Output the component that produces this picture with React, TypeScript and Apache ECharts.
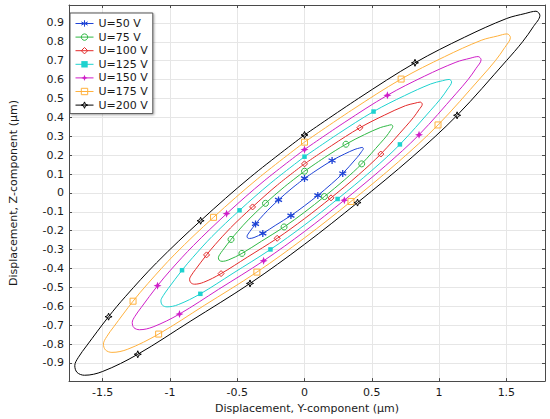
import React, { useEffect, useRef } from "react";
import * as echarts from "echarts";

type Pt = [number, number];

const seriesNames = ["U=50 V", "U=75 V", "U=100 V", "U=125 V", "U=150 V", "U=175 V", "U=200 V"];
const seriesColors = ["#1f44d6", "#2fb844", "#e32a2a", "#1ed2cf", "#cf1fc8", "#ffb13d", "#000000"];
const markerIndices = [0, 2, 11, 13, 15, 17, 24, 27];
const xTitle = "Displacement, Y-component (µm)";
const yTitle = "Displacement, Z-component (µm)";

const u50: Pt[] = [
  [0, 0.077], [0.1, 0.125], [0.205, 0.172], [0.297, 0.206], [0.375, 0.231], [0.41, 0.238],
  [0.43, 0.241], [0.437, 0.235], [0.425, 0.22], [0.405, 0.2], [0.375, 0.175], [0.284, 0.103],
  [0.2, 0.048], [0.099, -0.013], [0, -0.068], [-0.101, -0.12], [-0.213, -0.17], [-0.31, -0.214],
  [-0.375, -0.236], [-0.409, -0.241], [-0.423, -0.238], [-0.427, -0.229], [-0.42, -0.218],
  [-0.405, -0.203], [-0.364, -0.164], [-0.332, -0.137], [-0.275, -0.093], [-0.193, -0.037],
  [-0.1, 0.021], [0, 0.077],
];
const u75: Pt[] = [
  [0, 0.115], [0.15, 0.188], [0.308, 0.258], [0.446, 0.309], [0.563, 0.346], [0.615, 0.356],
  [0.645, 0.361], [0.656, 0.353], [0.638, 0.33], [0.608, 0.3], [0.563, 0.263], [0.425, 0.154],
  [0.3, 0.071], [0.148, -0.019], [0, -0.102], [-0.152, -0.18], [-0.319, -0.255], [-0.465, -0.32],
  [-0.563, -0.354], [-0.613, -0.362], [-0.634, -0.356], [-0.64, -0.343], [-0.63, -0.326],
  [-0.608, -0.304], [-0.546, -0.246], [-0.498, -0.205], [-0.413, -0.139], [-0.29, -0.055],
  [-0.15, 0.032], [0, 0.115],
];
const u100: Pt[] = [
  [0, 0.154], [0.2, 0.25], [0.411, 0.345], [0.594, 0.412], [0.75, 0.462], [0.82, 0.475],
  [0.86, 0.481], [0.875, 0.47], [0.85, 0.44], [0.81, 0.4], [0.75, 0.35], [0.567, 0.206],
  [0.4, 0.095], [0.197, -0.026], [0, -0.136], [-0.203, -0.24], [-0.425, -0.34], [-0.62, -0.427],
  [-0.75, -0.473], [-0.818, -0.483], [-0.845, -0.475], [-0.854, -0.457], [-0.84, -0.435],
  [-0.81, -0.405], [-0.728, -0.328], [-0.665, -0.274], [-0.55, -0.185], [-0.386, -0.074],
  [-0.2, 0.043], [0, 0.154],
];
const u125: Pt[] = [
  [0, 0.192], [0.25, 0.313], [0.513, 0.431], [0.743, 0.515], [0.938, 0.577], [1.025, 0.594],
  [1.075, 0.601], [1.093, 0.588], [1.063, 0.55], [1.013, 0.5], [0.938, 0.438], [0.709, 0.257],
  [0.5, 0.119], [0.246, -0.032], [0, -0.17], [-0.253, -0.299], [-0.531, -0.425], [-0.774, -0.534],
  [-0.938, -0.591], [-1.022, -0.603], [-1.056, -0.594], [-1.067, -0.571], [-1.05, -0.544],
  [-1.013, -0.506], [-0.91, -0.409], [-0.831, -0.342], [-0.688, -0.231], [-0.483, -0.092],
  [-0.25, 0.053], [0, 0.192],
];
const u150: Pt[] = [
  [0, 0.23], [0.3, 0.375], [0.616, 0.517], [0.891, 0.618], [1.125, 0.692], [1.23, 0.713],
  [1.29, 0.722], [1.312, 0.705], [1.275, 0.66], [1.215, 0.6], [1.125, 0.525], [0.851, 0.308],
  [0.6, 0.143], [0.296, -0.038], [0, -0.204], [-0.304, -0.359], [-0.638, -0.51], [-0.929, -0.641],
  [-1.125, -0.709], [-1.226, -0.724], [-1.268, -0.713], [-1.28, -0.686], [-1.26, -0.653],
  [-1.215, -0.608], [-1.092, -0.491], [-0.997, -0.41], [-0.825, -0.278], [-0.579, -0.11],
  [-0.3, 0.064], [0, 0.23],
];
const u175: Pt[] = [
  [0, 0.269], [0.35, 0.438], [0.718, 0.603], [1.04, 0.721], [1.313, 0.808], [1.435, 0.831],
  [1.505, 0.842], [1.53, 0.823], [1.488, 0.77], [1.418, 0.7], [1.313, 0.613], [0.992, 0.36],
  [0.7, 0.166], [0.345, -0.045], [0, -0.238], [-0.354, -0.419], [-0.744, -0.595], [-1.084, -0.747],
  [-1.313, -0.827], [-1.431, -0.844], [-1.479, -0.831], [-1.494, -0.8], [-1.47, -0.761],
  [-1.418, -0.709], [-1.274, -0.573], [-1.163, -0.479], [-0.963, -0.324], [-0.676, -0.129],
  [-0.35, 0.074], [0, 0.269],
];
const u200: Pt[] = [
  [0, 0.307], [0.4, 0.5], [0.821, 0.689], [1.188, 0.824], [1.5, 0.923], [1.64, 0.95],
  [1.72, 0.962], [1.749, 0.94], [1.7, 0.88], [1.62, 0.8], [1.5, 0.7], [1.134, 0.411],
  [0.8, 0.19], [0.394, -0.051], [0, -0.272], [-0.405, -0.479], [-0.85, -0.68], [-1.239, -0.854],
  [-1.5, -0.945], [-1.635, -0.965], [-1.69, -0.95], [-1.707, -0.914], [-1.68, -0.87],
  [-1.62, -0.81], [-1.456, -0.655], [-1.329, -0.547], [-1.1, -0.37], [-0.772, -0.147],
  [-0.4, 0.085], [0, 0.307],
];

const curves: Pt[][] = [u50, u75, u100, u125, u150, u175, u200];

const xMin = -1.75;
const xMax = 1.787;
const yMin = -0.996;
const yMax = 0.995;

const FONT = "DejaVu Sans";
const CLEAR = "rgba(255,255,255,0)";

const asterisk = "path://M5 0 L5 10 M0.67 2.5 L9.33 7.5 M0.67 7.5 L9.33 2.5";
const star4 = "path://M5 0 L6.4 3.6 L10 5 L6.4 6.4 L5 10 L3.6 6.4 L0 5 L3.6 3.6 Z";

const markerStyles = [
  { symbol: asterisk, size: 7, itemStyle: { color: seriesColors[0], borderColor: seriesColors[0], borderWidth: 1.3 } },
  { symbol: "circle", size: 6, itemStyle: { color: CLEAR, borderColor: seriesColors[1], borderWidth: 1 } },
  { symbol: "diamond", size: 6, itemStyle: { color: CLEAR, borderColor: seriesColors[2], borderWidth: 1 } },
  { symbol: "rect", size: 4.5, itemStyle: { color: seriesColors[3] } },
  { symbol: star4, size: 8, itemStyle: { color: seriesColors[4] } },
  { symbol: "rect", size: 6, itemStyle: { color: CLEAR, borderColor: seriesColors[5], borderWidth: 1 } },
  { symbol: star4, size: 7, itemStyle: { color: CLEAR, borderColor: "#000000", borderWidth: 1 } },
];

function buildData(pts: Pt[]) {
  return pts.map((p, i) =>
    markerIndices.indexOf(i) >= 0 && i < pts.length - 1 ? { value: p } : { value: p, symbol: "none" }
  );
}

export default function App() {
  const ref = useRef<HTMLDivElement>(null);

  useEffect(() => {
    if (!ref.current) return;
    const chart = echarts.init(ref.current, undefined, { renderer: "svg" });

    const axisLineStyle = { color: "#4a4a4a", width: 1 };
    const labelStyle = { color: "#1a1a1a", fontSize: 11, fontFamily: FONT };

    const series = curves.map((pts, i) => ({
      name: seriesNames[i],
      type: "line",
      data: buildData(pts),
      smooth: 0.35,
      symbol: markerStyles[i].symbol,
      symbolSize: markerStyles[i].size,
      showSymbol: true,
      showAllSymbol: true,
      itemStyle: markerStyles[i].itemStyle,
      lineStyle: { color: seriesColors[i], width: 1 },
      emphasis: { disabled: true },
      xAxisIndex: 0,
      yAxisIndex: 0,
    }));

    chart.setOption({
      animation: false,
      textStyle: { fontFamily: FONT },
      grid: { left: 63, right: 5, top: 5, bottom: 32, containLabel: false },
      legend: {
        data: seriesNames,
        orient: "vertical",
        left: 70,
        top: 13,
        itemWidth: 18,
        itemHeight: 8,
        itemGap: 2.6,
        padding: [5, 5, 3, 5],
        backgroundColor: "#ffffff",
        borderColor: "#555555",
        borderWidth: 1,
        shadowColor: "rgba(0,0,0,0.35)",
        shadowBlur: 2,
        shadowOffsetX: 1,
        shadowOffsetY: 1,
        lineStyle: { width: 1 },
        itemStyle: { borderWidth: 1 },
        textStyle: { color: "#1a1a1a", fontSize: 11, fontFamily: FONT },
        selectedMode: false,
      },
      xAxis: [
        {
          type: "value",
          min: xMin,
          max: xMax,
          minInterval: 0.5,
          maxInterval: 0.5,
          position: "bottom",
          axisLine: { show: true, onZero: false, lineStyle: axisLineStyle },
          axisTick: { show: true, inside: true, length: 3, lineStyle: axisLineStyle },
          axisLabel: { ...labelStyle, margin: 6, showMinLabel: false, showMaxLabel: false },
          splitLine: { show: true, lineStyle: { color: "#e6e6e6", width: 1 } },
          name: xTitle,
          nameLocation: "middle",
          nameGap: 18,
          nameTextStyle: { ...labelStyle },
        },
        {
          type: "value",
          min: xMin,
          max: xMax,
          minInterval: 0.5,
          maxInterval: 0.5,
          position: "top",
          axisLine: { show: true, onZero: false, lineStyle: axisLineStyle },
          axisTick: { show: true, inside: true, length: 3, lineStyle: axisLineStyle },
          axisLabel: { show: false },
          splitLine: { show: false },
        },
      ],
      yAxis: [
        {
          type: "value",
          min: yMin,
          max: yMax,
          minInterval: 0.1,
          maxInterval: 0.1,
          position: "left",
          axisLine: { show: true, onZero: false, lineStyle: axisLineStyle },
          axisTick: { show: true, inside: true, length: 3, lineStyle: axisLineStyle },
          axisLabel: { ...labelStyle, margin: 5, showMinLabel: false, showMaxLabel: false },
          splitLine: { show: true, lineStyle: { color: "#e6e6e6", width: 1 } },
          name: yTitle,
          nameLocation: "middle",
          nameGap: 50,
          nameRotate: 90,
          nameTextStyle: { ...labelStyle },
        },
        {
          type: "value",
          min: yMin,
          max: yMax,
          minInterval: 0.1,
          maxInterval: 0.1,
          position: "right",
          axisLine: { show: true, onZero: false, lineStyle: axisLineStyle },
          axisTick: { show: true, inside: true, length: 3, lineStyle: axisLineStyle },
          axisLabel: { show: false },
          splitLine: { show: false },
        },
      ],
      series,
    });

    return () => chart.dispose();
  }, []);

  return (
    <div
      ref={ref}
      style={{ position: "fixed", left: 0, top: 0, width: 550, height: 419, background: "#ffffff" }}
    />
  );
}
